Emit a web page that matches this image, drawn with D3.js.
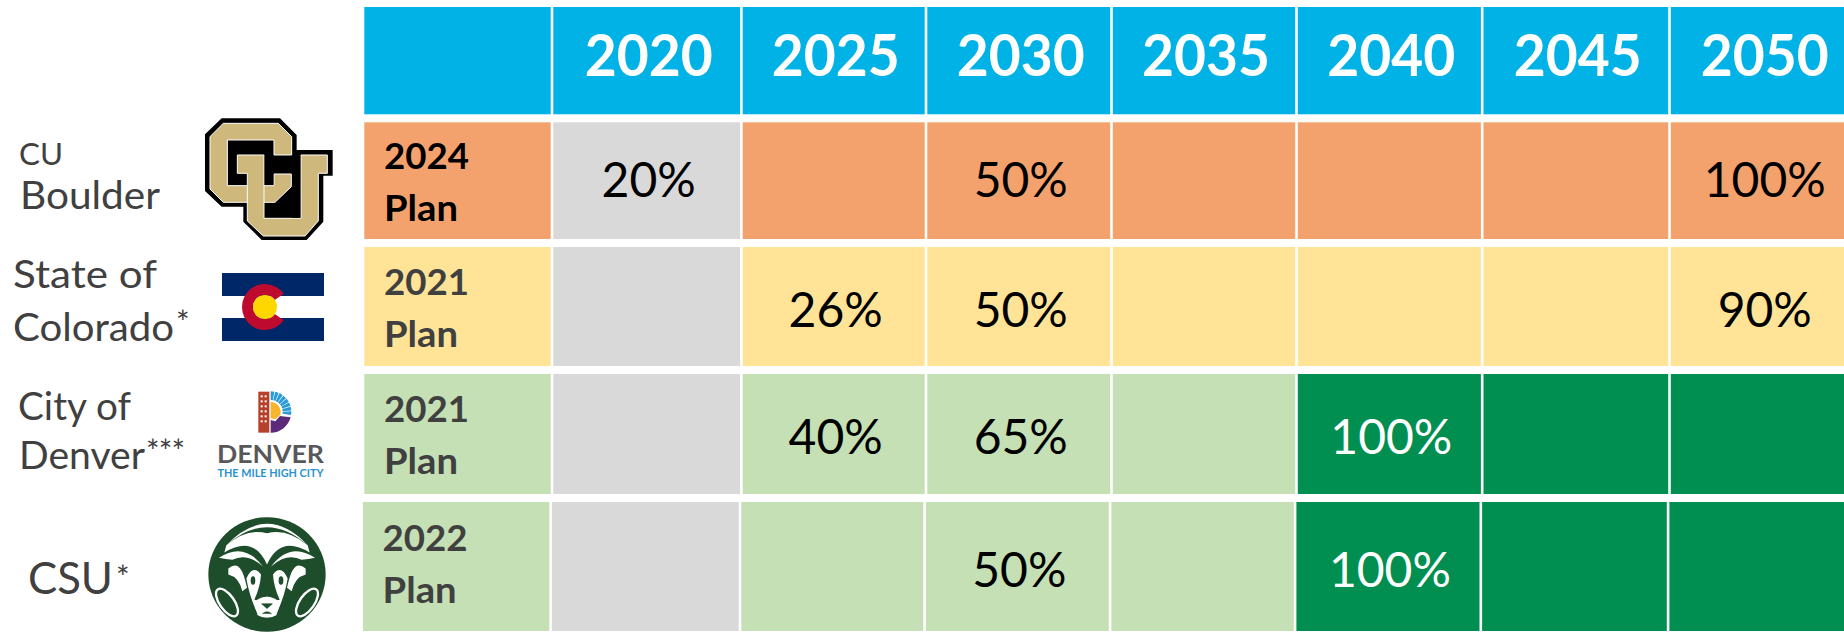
<!DOCTYPE html>
<html>
<head>
<meta charset="utf-8">
<script src="https://cdn.jsdelivr.net/npm/d3@7"></script>
<style>
  html, body { margin: 0; padding: 0; background: #fff; }
  svg { display: block; }
  text { font-family: Lato, sans-serif; }
</style>
</head>
<body>
<svg class="plan-table" width="1844" height="632"></svg>
<script>
var years = ["2020", "2025", "2030", "2035", "2040", "2045", "2050"];
var planYears = ["2024", "2021", "2021", "2022"];
var boulderTargets = [20, null, 50, null, null, null, 100];
var coloradoTargets = [null, 26, 50, null, null, null, 90];
var denverTargets = [null, 40, 65, null, 100, null, null];
var csuTargets = [null, null, 50, null, 100, null, null];
var targets = [boulderTargets, coloradoTargets, denverTargets, csuTargets];
var reached100In = [null, null, "2040", "2040"];
var planNames = [["CU", "Boulder"], ["State of", "Colorado"], ["City of", "Denver"], ["CSU"]];
var footnoteMarks = ["", "*", "***", "*"];

var rowFills = ["#F4A26D", "#FFE498", "#C5E0B4", "#C5E0B4"];
var headerFill = "#00B2E5", baselineFill = "#D9D9D9", reachedFill = "#008F50";
var planInk = ["#000", "#404040", "#404040", "#404040"];

// column and row edges are not quite even in the source, so piecewise scales
var x = d3.scaleLinear().domain(d3.range(9))
  .range([363, 552, 741.4, 926, 1111.5, 1296.5, 1482.2, 1669.5, 1856]);
var y = d3.scaleLinear().domain(d3.range(6))
  .range([3, 118.3, 243, 370, 498, 635]);
var gap = 2.6, rowGap = 8;
var csuShift = -1.4; // last row sits a little to the left

var valueBase = [197, 327, 454, 587];
var planBase = [[169, 220.5], [295, 347], [422, 474], [551, 603]];

var chart = d3.select(".plan-table");

// header band
var header = chart.append("g");
header.selectAll("rect")
  .data([""].concat(years))
  .enter().append("rect")
    .attr("x", (d, i) => x(i) + gap / 2)
    .attr("y", y(0) + 4)
    .attr("width", (d, i) => x(i + 1) - x(i) - gap)
    .attr("height", 107.3)
    .attr("fill", headerFill);
header.selectAll("text")
  .data(years)
  .enter().append("text")
    .attr("x", (d, i) => (x(i + 1) + x(i + 2)) / 2 + 2)
    .attr("y", 76)
    .attr("text-anchor", "middle")
    .attr("font-size", 57)
    .attr("font-weight", 700)
    .attr("fill", "#fff")
    .attr("textLength", 128)
    .attr("lengthAdjust", "spacingAndGlyphs")
    .text((d) => d);

// one row per plan
var rows = chart.selectAll("g.row")
  .data(targets)
  .enter().append("g")
    .attr("class", "row")
    .attr("transform", (d, i) => "translate(" + (i == 3 ? csuShift : 0) + ",0)");

rows.each(function(values, r) {
  var row = d3.select(this);
  var top = y(r + 1) + rowGap / 2, bottom = y(r + 2) - rowGap / 2;

  row.append("rect")
    .attr("x", x(0) + gap / 2)
    .attr("y", top)
    .attr("width", x(1) - x(0) - gap)
    .attr("height", bottom - top)
    .attr("fill", rowFills[r]);

  var isReached = (i) => reached100In[r] != null && +years[i] >= +reached100In[r];

  row.selectAll("rect.cell")
    .data(values)
    .enter().append("rect")
      .attr("class", "cell")
      .attr("x", (d, i) => x(i + 1) + gap / 2)
      .attr("y", top)
      .attr("width", (d, i) => x(i + 2) - x(i + 1) - gap)
      .attr("height", bottom - top)
      .attr("fill", (d, i) => i == 0 ? baselineFill : isReached(i) ? reachedFill : rowFills[r]);

  row.selectAll("text.value")
    .data(values)
    .enter().filter((d) => d != null).append("text")
      .attr("class", "value")
      .attr("x", function(d) { return (x(values.indexOf(d) + 1) + x(values.indexOf(d) + 2)) / 2 + 2; })
      .attr("y", valueBase[r])
      .attr("text-anchor", "middle")
      .attr("font-size", 48)
      .attr("fill", (d) => isReached(values.indexOf(d)) ? "#fff" : "#000")
      .text((d) => d + "%");

  [planYears[r], "Plan"].forEach((label, k) => {
    row.append("text")
      .attr("x", 384)
      .attr("y", planBase[r][k])
      .attr("font-size", 37)
      .attr("font-weight", 700)
      .attr("fill", planInk[r])
      .attr("textLength", k == 0 ? 85 : 74)
      .attr("lengthAdjust", "spacingAndGlyphs")
      .text(label);
  });
});

// names on the left: x, baseline, font size, width
var nameSpots = [
  [[19, 165, 31, 44], [20, 209, 39, 140]],
  [[13, 288, 39, 144], [13, 341, 39, 161]],
  [[18, 420, 39, 113], [19, 469, 39, 126]],
  [[28, 594, 44, 85]]
];
// footnote marks: x, baseline, width
var markSpots = [null, [176, 334, 11], [146, 463, 39], [116, 589, 12]];

planNames.forEach((lines, r) => {
  lines.forEach((line, k) => {
    var spot = nameSpots[r][k];
    chart.append("text")
      .attr("x", spot[0])
      .attr("y", spot[1])
      .attr("font-size", spot[2])
      .attr("fill", "#404040")
      .attr("textLength", spot[3])
      .attr("lengthAdjust", "spacingAndGlyphs")
      .text(line);
  });
  if (footnoteMarks[r]) {
    chart.append("text")
      .attr("x", markSpots[r][0])
      .attr("y", markSpots[r][1])
      .attr("font-size", 32)
      .attr("fill", "#404040")
      .attr("textLength", markSpots[r][2])
      .text(footnoteMarks[r]);
  }
});

// CU logo
var cu = chart.append("g").attr("transform", "translate(190,105) scale(0.3333)");
cu.append("path")
  .attr("d", "M95,40H270L320,90V135H428V212H400V350L350,405H215L160,350V305H95L45,258V88Z")
  .attr("fill", "#000");
cu.append("path")
  .attr("d", "M100,55H265L305,95V150H252V105H112V242H252V207H304V245L255,292H100L60,252V95Z")
  .attr("fill", "#CFB87C").attr("stroke", "#fff").attr("stroke-width", 3);
cu.append("path")
  .attr("d", "M224,294H331V338H224Z").attr("fill", "#000");
cu.append("path")
  .attr("d", "M142,150H222V340H333V205V150H412V205H385V348L345,393H220L172,348V205H142Z")
  .attr("fill", "#CFB87C").attr("stroke", "#fff").attr("stroke-width", 3);
cu.append("path")
  .attr("d", "M306,152H331V338H306Z M224,152H250V240H224Z").attr("fill", "#000");

// Colorado flag
var flag = chart.append("g");
flag.append("rect").attr("x", 222).attr("y", 273).attr("width", 102).attr("height", 68).attr("fill", "#fff");
flag.append("rect").attr("x", 222).attr("y", 273).attr("width", 102).attr("height", 23).attr("fill", "#002868");
flag.append("rect").attr("x", 222).attr("y", 318).attr("width", 102).attr("height", 23).attr("fill", "#002868");
flag.append("path")
  .attr("transform", "translate(265,307)")
  .attr("d", d3.arc()({innerRadius: 12, outerRadius: 23, startAngle: Math.PI / 2 + 0.62, endAngle: 2.5 * Math.PI - 0.62}))
  .attr("fill", "#BF0A30");
flag.append("circle").attr("cx", 265).attr("cy", 307).attr("r", 12).attr("fill", "#FFD700");

// Denver logo
var den = chart.append("g").attr("transform", "translate(200,380) scale(0.3333)");
den.append("rect").attr("x", 175).attr("y", 35).attr("width", 33).attr("height", 123).attr("fill", "#B5402C");
d3.range(6).forEach((a) => {
  [182, 194].forEach((wx) => {
    den.append("rect").attr("x", wx).attr("y", 46 + a * 15).attr("width", 6).attr("height", 6).attr("fill", "#fff");
  });
});
den.append("path")
  .attr("d", "M212,158A62,62 0 0 0 272,112L240,108L226,124L212,120Z")
  .attr("fill", "#5B2A7B");
den.append("g").attr("transform", "translate(212,96)")
  .selectAll("path")
  .data(d3.range(8))
  .enter().append("path")
    .attr("d", (i) => d3.arc()({innerRadius: 36, outerRadius: 62, startAngle: i * 0.22, endAngle: i * 0.22 + 0.18}))
    .attr("fill", "#2A9BD6");
den.append("path")
  .attr("d", "M212,66A30,30 0 0 1 241,104L226,118L212,115Z")
  .attr("fill", "#F9B42D");
chart.append("text")
  .attr("x", 217).attr("y", 462.5)
  .attr("font-size", 24).attr("font-weight", 700).attr("fill", "#58585A")
  .attr("textLength", 107).attr("lengthAdjust", "spacingAndGlyphs")
  .text("DENVER");
chart.append("text")
  .attr("x", 217.5).attr("y", 477)
  .attr("font-size", 12).attr("font-weight", 700).attr("fill", "#2A93D0")
  .attr("textLength", 106).attr("lengthAdjust", "spacingAndGlyphs")
  .text("THE MILE HIGH CITY");

// CSU ram
var ram = chart.append("g").attr("transform", "translate(267,574.5) scale(0.3333)");
var ramGreen = "#1E4D2B";
ram.append("ellipse").attr("rx", 176).attr("ry", 172).attr("fill", ramGreen);
ram.append("path")
  .attr("d", "M-122,-88Q0,-216 122,-88Q0,-196 -122,-88Z")
  .attr("fill", "#fff");
[1, -1].forEach((side) => {
  var half = ram.append("g").attr("transform", "scale(" + side + ",1)");
  // white behind the horn
  half.append("path")
    .attr("d", "M-122,-88Q-60,-140 0,-124L0,-30Q-40,-120 -128,-66Z")
    .attr("fill", "#fff");
  half.append("path")
    .attr("d", "M-144,-50Q-70,-100 -12,-24Q-60,-66 -104,-44Q-124,-46 -144,-50Z")
    .attr("fill", "#fff");
  // ear
  half.append("path")
    .attr("d", "M-116,-18Q-92,-38 -78,-14Q-70,-4 -60,40L-74,50Q-84,8 -116,0Z")
    .attr("fill", "#fff");
  // side of the face with the eye
  half.append("path")
    .attr("d", "M-62,12Q-42,-32 -18,0Q-20,36 -38,76L-18,80L0,66L0,94L-32,110Q-54,60 -62,12Z")
    .attr("fill", "#fff");
  half.append("ellipse")
    .attr("cx", -42).attr("cy", 18).attr("rx", 7).attr("ry", 13)
    .attr("fill", ramGreen);
  // lower curl of the horn
  half.append("ellipse")
    .attr("cx", -120).attr("cy", 84).attr("rx", 22).attr("ry", 48)
    .attr("transform", "rotate(-35,-120,84)")
    .attr("fill", "none").attr("stroke", "#fff").attr("stroke-width", 7);
});
// muzzle
ram.append("path")
  .attr("d", "M-40,84Q0,50 40,84L28,122Q0,138 -28,122Z")
  .attr("fill", "#fff");
ram.append("path")
  .attr("d", "M-16,88H16L0,102Z M-14,118Q0,106 14,118").attr("fill", ramGreen).attr("stroke", ramGreen).attr("stroke-width", 2);
</script>
</body>
</html>
